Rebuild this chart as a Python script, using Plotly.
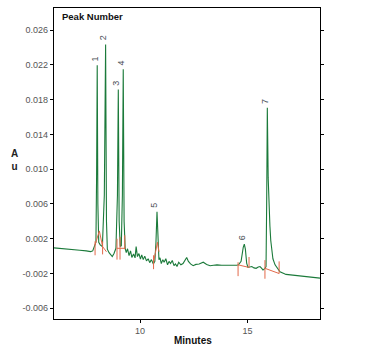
import plotly.graph_objects as go

# ---- data ----
time_min = [6.00, 6.30, 6.60, 6.90, 7.20, 7.50, 7.70, 7.80, 7.88, 7.95, 7.98, 8.01, 8.04, 8.08,
            8.15, 8.25, 8.34, 8.40, 8.44, 8.48, 8.56, 8.64, 8.71, 8.79, 8.88, 8.95, 8.99, 9.03,
            9.08, 9.13, 9.18, 9.22, 9.26, 9.31, 9.36, 9.42, 9.49, 9.56, 9.62, 9.70, 9.77, 9.82,
            9.88, 9.95, 10.02, 10.08, 10.15, 10.22, 10.30, 10.38, 10.45, 10.53, 10.62, 10.69,
            10.74, 10.79, 10.84, 10.88, 10.93, 10.99, 11.06, 11.12, 11.20, 11.28, 11.35, 11.42,
            11.50, 11.58, 11.65, 11.72, 11.80, 11.90, 12.00, 12.10, 12.17, 12.25, 12.35, 12.47,
            12.60, 12.75, 12.94, 13.10, 13.26, 13.42, 13.58, 13.80, 14.05, 14.33, 14.50, 14.58,
            14.70, 14.80, 14.85, 14.90, 14.96, 15.02, 15.10, 15.20, 15.30, 15.40, 15.50, 15.58,
            15.66, 15.72, 15.80, 15.86, 15.89, 15.92, 15.96, 16.00, 16.04, 16.08, 16.12, 16.18,
            16.28, 16.40, 16.51, 16.79, 17.21, 17.67, 18.00, 18.37]
absorbance = [0.00095, 0.00090, 0.00082, 0.00075, 0.00068, 0.00060, 0.00052, 0.00060, 0.00120,
              0.00160, 0.00900, 0.02195, 0.00600, 0.00160, 0.00130, 0.00110, 0.00700, 0.02433,
              0.00400, 0.00080, 0.00040, 0.00010, -0.00005, 0.00030, 0.00090, 0.00700, 0.01918,
              0.00400, 0.00110, 0.00120, 0.00700, 0.02149, 0.00400, 0.00090, 0.00040, 0.00085,
              0.00005, 0.00060, -0.00015, 0.00025, -0.00020, 0.00110, -0.00005, 0.00030,
              -0.00035, 0.00015, -0.00040, 0.00000, -0.00055, -0.00030, -0.00075, -0.00040,
              -0.00090, -0.00060, 0.00150, 0.00511, 0.00100, -0.00040, -0.00020, -0.00085,
              -0.00040, -0.00070, -0.00030, -0.00100, -0.00060, -0.00085, -0.00050, -0.00110,
              -0.00090, -0.00120, -0.00070, -0.00100, -0.00085, -0.00050, -0.00015, -0.00060,
              -0.00090, -0.00110, -0.00095, -0.00090, -0.00070, -0.00095, -0.00110, -0.00105,
              -0.00100, -0.00105, -0.00108, -0.00110, -0.00105, -0.00100, -0.00060, 0.00100,
              0.00139, 0.00080, -0.00080, -0.00130, -0.00125, -0.00120, -0.00135, -0.00140,
              -0.00125, -0.00120, -0.00140, -0.00160, -0.00145, -0.00120, 0.00600, 0.01707,
              0.00900, 0.00550, 0.00350, 0.00180, 0.00060, -0.00030, -0.00100, -0.00150,
              -0.00180, -0.00210, -0.00220, -0.00230, -0.00240, -0.00253]

# integration baselines / peak markers (None separates segments)
baseline_t = [7.91, 7.91, None, 7.91, 8.11, 8.26, 8.44, None, 8.26, 8.26, None,
              8.93, 8.93, None, 9.07, 9.07, None, 8.93, 9.30, None, 9.29, 9.29, None,
              10.63, 10.63, None, 10.63, 10.81, 10.88, None,
              14.56, 14.56, None, 14.56, 15.07, None, 15.07, 15.07, None,
              15.81, 15.81, None, 15.81, 16.47, None, 16.47, 16.47]
baseline_a = [0.0017, 0.0001, None, 0.0013, 0.0029, 0.0011, 0.0005, None, 0.0017, 0.0002, None,
              0.0020, -0.0004, None, 0.0022, -0.0004, None, 0.0009, 0.0009, None, 0.0024, 0.0008, None,
              0.0001, -0.0015, None, -0.0007, 0.0016, 0.0005, None,
              -0.0007, -0.0023, None, -0.0010, -0.0013, None, -0.0001, -0.0013, None,
              -0.00046, -0.0026, None, -0.0014, -0.0020, None, -0.0006, -0.0020]

peak_ids = ["1", "2", "3", "4", "5", "6", "7"]
peak_times = [8.01, 8.40, 8.99, 9.22, 10.79, 14.85, 15.92]
peak_heights = [0.02195, 0.02433, 0.01918, 0.02149, 0.00511, 0.00139, 0.01707]

y_ticks = [-0.006, -0.002, 0.002, 0.006, 0.010, 0.014, 0.018, 0.022, 0.026]
y_ticktext = [("%.3f" % v) for v in y_ticks]
x_ticks = [10, 15]

fig = go.Figure()
fig.add_trace(go.Scatter(x=time_min, y=absorbance, mode="lines",
                         line=dict(color="#1b7a3a", width=1.1), hoverinfo="skip"))
fig.add_trace(go.Scatter(x=baseline_t, y=baseline_a, mode="lines",
                         line=dict(color="#e2694a", width=1), connectgaps=False, hoverinfo="skip"))

for pid, pt, ph in zip(peak_ids, peak_times, peak_heights):
    fig.add_annotation(x=pt, y=ph, text=pid, showarrow=False, textangle=-90,
                       xanchor="center", yanchor="bottom", xshift=-2.5, yshift=2,
                       font=dict(family="Liberation Sans, Arial", size=9, color="#4a4f57"))

fig.add_annotation(xref="paper", yref="paper", x=0.022, y=0.972, text="<b>Peak Number</b>",
                   showarrow=False, xanchor="left", yanchor="middle",
                   font=dict(family="Liberation Sans, Arial", size=9.5, color="#111"))
fig.add_annotation(xref="paper", yref="paper", x=-0.147, y=0.511, text="<b>A<br>u</b>",
                   showarrow=False, xanchor="center", yanchor="middle",
                   font=dict(family="Liberation Sans, Arial", size=10, color="#222"))
fig.add_annotation(xref="paper", yref="paper", x=0.523, y=-0.068, text="<b>Minutes</b>",
                   showarrow=False, xanchor="center", yanchor="middle",
                   font=dict(family="Liberation Sans, Arial", size=10, color="#111"))

fig.update_layout(
    width=365, height=346,
    margin=dict(l=54, r=45, t=8, b=27),
    paper_bgcolor="white", plot_bgcolor="white",
    showlegend=False,
    xaxis=dict(range=[6.0, 18.37], tickvals=x_ticks, showgrid=False, zeroline=False,
               showline=True, linecolor="black", linewidth=1.3, mirror=True,
               ticks="outside", ticklen=3, tickcolor="black",
               tickfont=dict(family="Liberation Sans, Arial", size=9, color="#555")),
    yaxis=dict(range=[-0.00723, 0.02854], tickvals=y_ticks, ticktext=y_ticktext,
               showgrid=False, zeroline=False,
               showline=True, linecolor="black", linewidth=1.3, mirror="ticks",
               ticks="outside", ticklen=3, tickcolor="black",
               tickfont=dict(family="Liberation Sans, Arial", size=9, color="#555")),
)

fig.write_html("out.html")
